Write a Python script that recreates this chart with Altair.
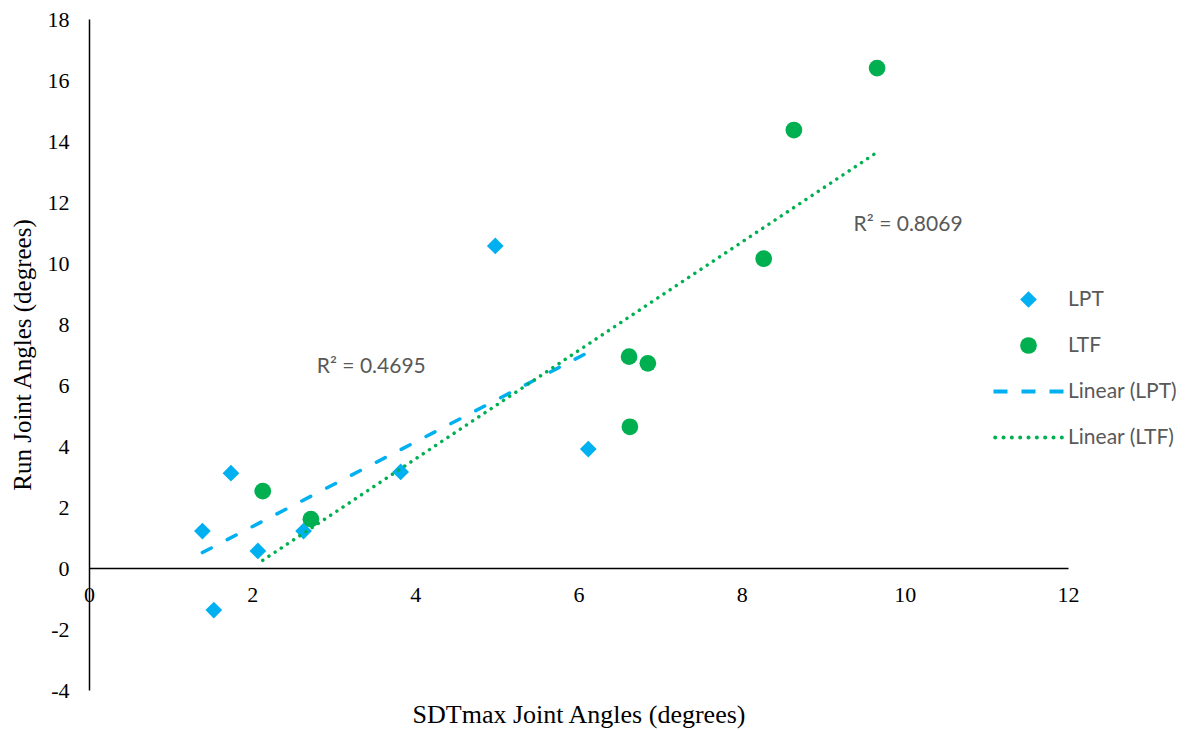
import math
import altair as alt
import pandas as pd

# SDTmax vs run joint angles (degrees) for the two joints
lpt_x = [1.39, 1.74, 2.07, 1.53, 2.63, 3.82, 4.98, 6.12]
lpt_y = [1.21, 3.11, 0.56, -1.38, 1.21, 3.15, 10.56, 3.90]
ltf_x = [2.13, 2.72, 6.62, 6.85, 6.63, 8.27, 8.64, 9.66]
ltf_y = [2.52, 1.60, 6.93, 6.71, 4.63, 10.14, 14.36, 16.39]

series_names = ["LPT", "LTF", "Linear (LPT)", "Linear (LTF)"]
series_colors = ["#00B0F0", "#00B050", "#00B0F0", "#00B050"]

r2_text = ["R\u00b2 = 0.4695", "R\u00b2 = 0.8069"]
r2_x = [3.46, 10.04]
r2_y = [6.59, 11.25]

x_ticks = [0, 2, 4, 6, 8, 10, 12]
y_ticks = [-4, -2, 0, 2, 4, 6, 8, 10, 12, 14, 16, 18]

points = pd.DataFrame({
    "x": lpt_x + ltf_x,
    "y": lpt_y + ltf_y,
    "series": ["LPT"] * len(lpt_x) + ["LTF"] * len(ltf_x),
})
labels = pd.DataFrame({"x": r2_x, "y": r2_y, "text": r2_text})

W, H = 979, 671
SYM = 280                       # marker area
U = math.sqrt(SYM) / 2          # px per unit of a symbol path


def _bar(x0, x1, h=2.0):
    return f"M{x0/U:.3f},{-h/U:.3f}H{x1/U:.3f}V{h/U:.3f}H{x0/U:.3f}Z"


def _dot(cx, r=2.0):
    a, b, rr = (cx - r) / U, (cx + r) / U, r / U
    return (f"M{a:.3f},0A{rr:.3f},{rr:.3f} 0 1,0 {b:.3f},0"
            f"A{rr:.3f},{rr:.3f} 0 1,0 {a:.3f},0Z")


dash_path = " ".join(_bar(a, b) for a, b in [(-35, -21), (-7, 7), (21, 35)])
dot_path = " ".join(_dot(-33.3 + 8.33 * k) for k in range(9))
series_shapes = ["diamond", "circle", dash_path, dot_path]

x_scale = alt.Scale(domain=[0, 12], nice=False, zero=False)
y_scale = alt.Scale(domain=[-4, 18], nice=False, zero=False)

plain_number = "'' + datum.value"

x_axis = alt.Axis(
    title="SDTmax Joint Angles (degrees)", values=x_ticks, grid=False,
    ticks=False, offset=-H * 4 / 22, labelPadding=16, labelFlush=False,
    labelExpr=plain_number, titleY=154, titleBaseline="alphabetic",
)
y_axis = alt.Axis(
    title="Run Joint Angles (degrees)", values=y_ticks, grid=False,
    ticks=False, labelPadding=20, labelExpr=plain_number,
    titleAngle=-90, titleX=-67, titleBaseline="middle", titleFontSize=25,
)

legend = alt.Legend(
    title=None, orient="none", legendX=929, legendY=270,
    symbolSize=SYM, labelOffset=29, rowPadding=24, padding=0,
    labelFont="Lato", labelFontSize=21, labelColor="#595959",
    symbolStrokeWidth=0,
)

base = alt.Chart(points)

scatter = base.mark_point(filled=True, size=SYM, opacity=1).encode(
    x=alt.X("x:Q", scale=x_scale, axis=x_axis),
    y=alt.Y("y:Q", scale=y_scale, axis=y_axis),
    color=alt.Color("series:N", scale=alt.Scale(domain=series_names, range=series_colors), legend=legend),
    shape=alt.Shape("series:N", scale=alt.Scale(domain=series_names, range=series_shapes), legend=legend),
)

fit_lpt = base.transform_filter(alt.datum.series == "LPT").transform_regression(
    "x", "y"
).mark_line(color="#00B0F0", strokeWidth=3.5, strokeDash=[10, 18], strokeCap="round").encode(
    x=alt.X("x:Q", scale=x_scale), y=alt.Y("y:Q", scale=y_scale)
)

fit_ltf = base.transform_filter(alt.datum.series == "LTF").transform_regression(
    "x", "y"
).mark_line(color="#00B050", strokeWidth=3.5, strokeDash=[0.01, 7.4], strokeCap="round").encode(
    x=alt.X("x:Q", scale=x_scale), y=alt.Y("y:Q", scale=y_scale)
)

r2 = alt.Chart(labels).mark_text(font="Lato", fontSize=21, color="#595959").encode(
    x=alt.X("x:Q", scale=x_scale), y=alt.Y("y:Q", scale=y_scale), text="text:N"
)

chart = alt.layer(scatter, fit_lpt, fit_ltf, r2).properties(
    width=W, height=H,
    autosize=alt.AutoSizeParams(type="none"),
    padding={"left": 89, "top": 19, "right": 121, "bottom": 40},
).configure_view(stroke=None).configure_axis(
    domainColor="#000000", domainWidth=1.5,
    labelFont="Liberation Serif", labelFontSize=22, labelColor="#000000",
    titleFont="Liberation Serif", titleFontSize=26, titleColor="#000000",
    titleFontWeight="normal",
)

chart.save("out.html", embed_options={"renderer": "svg", "actions": False})
